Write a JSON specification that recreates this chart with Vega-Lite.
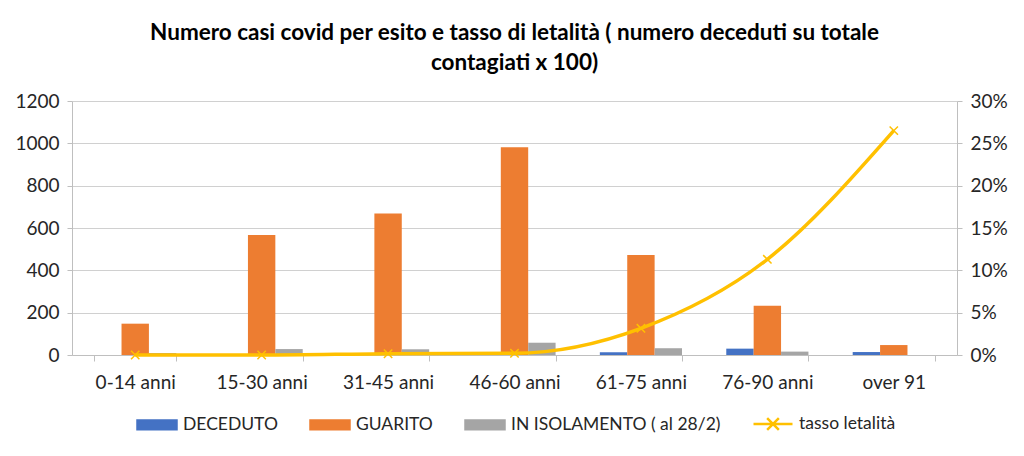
{
  "$schema": "https://vega.github.io/schema/vega-lite/v6.json",
  "width": 885,
  "height": 254,
  "autosize": {"type": "none"},
  "padding": {"left": 72, "top": 101, "right": 67, "bottom": 101},
  "background": "white",
  "title": {
    "text": ["Numero casi covid per esito e tasso di letalità ( numero deceduti su totale", "contagiati x 100)"],
    "font": "Lato",
    "fontSize": 22.5,
    "fontWeight": "bold",
    "color": "#000000",
    "anchor": "middle",
    "lineHeight": 30,
    "offset": 18
  },
  "config": {
    "font": "Lato",
    "view": {"stroke": null},
    "axis": {
      "labelFont": "Lato",
      "labelFontSize": 19,
      "labelColor": "#262626",
      "domainColor": "#bfbfbf",
      "tickColor": "#bfbfbf",
      "gridColor": "#d0d0d0"
    }
  },
  "layer": [
    {
      "data": {
        "values": [
          {"fascia": "0-14 anni", "esito": "DECEDUTO", "casi": 0},
          {"fascia": "0-14 anni", "esito": "GUARITO", "casi": 148},
          {"fascia": "0-14 anni", "esito": "IN ISOLAMENTO ( al 28/2)", "casi": 10},
          {"fascia": "15-30 anni", "esito": "DECEDUTO", "casi": 0},
          {"fascia": "15-30 anni", "esito": "GUARITO", "casi": 567},
          {"fascia": "15-30 anni", "esito": "IN ISOLAMENTO ( al 28/2)", "casi": 28},
          {"fascia": "31-45 anni", "esito": "DECEDUTO", "casi": 1},
          {"fascia": "31-45 anni", "esito": "GUARITO", "casi": 668},
          {"fascia": "31-45 anni", "esito": "IN ISOLAMENTO ( al 28/2)", "casi": 27},
          {"fascia": "46-60 anni", "esito": "DECEDUTO", "casi": 2},
          {"fascia": "46-60 anni", "esito": "GUARITO", "casi": 982},
          {"fascia": "46-60 anni", "esito": "IN ISOLAMENTO ( al 28/2)", "casi": 58},
          {"fascia": "61-75 anni", "esito": "DECEDUTO", "casi": 13},
          {"fascia": "61-75 anni", "esito": "GUARITO", "casi": 472},
          {"fascia": "61-75 anni", "esito": "IN ISOLAMENTO ( al 28/2)", "casi": 32},
          {"fascia": "76-90 anni", "esito": "DECEDUTO", "casi": 30},
          {"fascia": "76-90 anni", "esito": "GUARITO", "casi": 233},
          {"fascia": "76-90 anni", "esito": "IN ISOLAMENTO ( al 28/2)", "casi": 16},
          {"fascia": "over 91", "esito": "DECEDUTO", "casi": 14},
          {"fascia": "over 91", "esito": "GUARITO", "casi": 47},
          {"fascia": "over 91", "esito": "IN ISOLAMENTO ( al 28/2)", "casi": 0}
        ]
      },
      "mark": {"type": "bar"},
      "encoding": {
        "x": {
          "field": "fascia",
          "type": "nominal",
          "sort": null,
          "scale": {"paddingInner": 0.35, "paddingOuter": 0.175},
          "axis": {
            "title": null,
            "labelAngle": 0,
            "labelPadding": 12,
            "tickBand": "extent",
            "tickSize": 6
          }
        },
        "xOffset": {
          "field": "esito",
          "type": "nominal",
          "sort": ["DECEDUTO", "GUARITO", "IN ISOLAMENTO ( al 28/2)"],
          "scale": {"paddingInner": 0, "paddingOuter": 0}
        },
        "y": {
          "field": "casi",
          "type": "quantitative",
          "scale": {"domain": [0, 1200], "nice": false},
          "axis": {
            "title": null,
            "format": "d",
            "values": [0, 200, 400, 600, 800, 1000, 1200],
            "tickSize": 5,
            "labelPadding": 8,
            "grid": true
          }
        },
        "color": {
          "field": "esito",
          "type": "nominal",
          "scale": {
            "domain": ["DECEDUTO", "GUARITO", "IN ISOLAMENTO ( al 28/2)", "tasso letalità"],
            "range": ["#4472C4", "#ED7D31", "#A5A5A5", "#FFC000"]
          },
          "legend": {
            "title": null,
            "orient": "none",
            "direction": "horizontal",
            "legendX": 64,
            "legendY": 302,
            "labelFont": "Lato",
            "labelFontSize": 17.5,
            "labelColor": "#262626",
            "labelLimit": 0,
            "symbolSize": 1521,
            "labelOffset": 5,
            "columnPadding": 27,
            "symbolType": "M-1,-0.22H1V0.22H-1Z",
            "encode": {
              "symbols": {
                "update": {
                  "shape": {"signal": "datum.value === 'tasso letalità' ? 'M-1,0H1M-0.3,-0.3L0.3,0.3M-0.3,0.3L0.3,-0.3' : 'M-1,-0.22H1V0.22H-1Z'"},
                  "fill": {"signal": "datum.value === 'tasso letalità' ? 'transparent' : scale('color', datum.value)"},
                  "stroke": {"signal": "datum.value === 'tasso letalità' ? '#FFC000' : 'transparent'"},
                  "strokeWidth": {"value": 2.5},
                  "opacity": {"value": 1}
                }
              }
            }
          }
        }
      }
    },
    {
      "data": {
        "values": [
          {"fascia": "0-14 anni", "tasso": 0.0, "serie": "tasso letalità"},
          {"fascia": "15-30 anni", "tasso": 0.0, "serie": "tasso letalità"},
          {"fascia": "31-45 anni", "tasso": 0.0015, "serie": "tasso letalità"},
          {"fascia": "46-60 anni", "tasso": 0.002, "serie": "tasso letalità"},
          {"fascia": "61-75 anni", "tasso": 0.0315, "serie": "tasso letalità"},
          {"fascia": "76-90 anni", "tasso": 0.113, "serie": "tasso letalità"},
          {"fascia": "over 91", "tasso": 0.265, "serie": "tasso letalità"}
        ]
      },
      "encoding": {
        "x": {"field": "fascia", "type": "nominal", "sort": null},
        "y": {
          "field": "tasso",
          "type": "quantitative",
          "scale": {"domain": [0, 0.3], "nice": false},
          "axis": {
            "title": null,
            "orient": "right",
            "format": ".0%",
            "values": [0, 0.05, 0.1, 0.15, 0.2, 0.25, 0.3],
            "tickSize": 5,
            "labelPadding": 8,
            "grid": false
          }
        },
        "color": {"field": "serie", "type": "nominal", "legend": null}
      },
      "layer": [
        {"mark": {"type": "line", "strokeWidth": 3.5, "color": "#FFC000", "interpolate": "monotone"}},
        {"mark": {"type": "point", "shape": "M-1,-1L1,1M-1,1L1,-1", "size": 70, "filled": false, "strokeWidth": 1.5, "color": "#F5C842", "opacity": 1}}
      ]
    }
  ],
  "resolve": {"scale": {"y": "independent"}}
}
